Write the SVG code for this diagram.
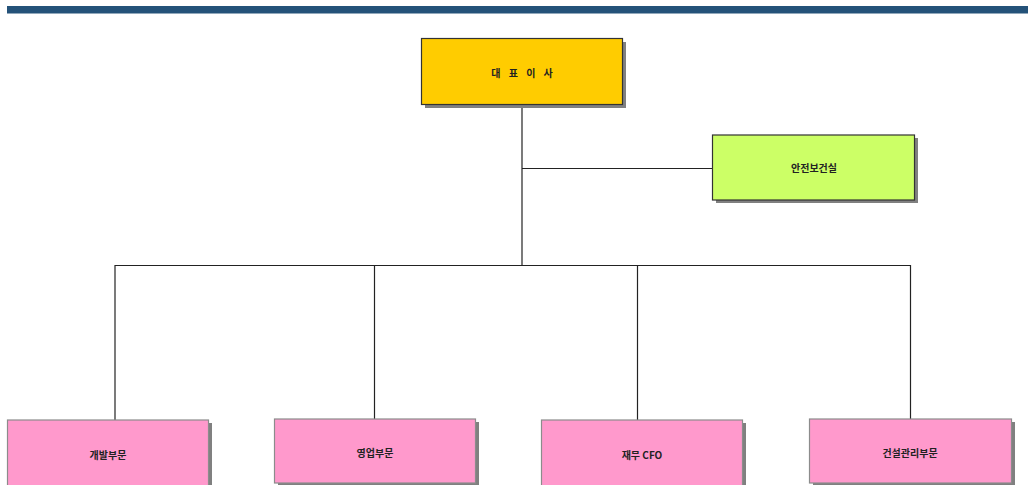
<svg xmlns="http://www.w3.org/2000/svg" width="1028" height="485" viewBox="0 0 1028 485">
<style>
.sh{fill:#808080}
.box{stroke:#333333;stroke-width:1.2}
.pk{fill:#FF99CC;stroke:#8c8c8c;stroke-width:1.2}
.t{font-family:"Noto Sans CJK KR","Liberation Sans",sans-serif;font-size:10px;font-weight:bold;fill:#222222;text-anchor:middle;dominant-baseline:central}
.ln{stroke:#222222;stroke-width:1.2;fill:none}
</style>
<rect x="7" y="6" width="1021" height="7.5" fill="#245279"/>
<g id="connectors">
<path class="ln" d="M522 105 V265"/>
<path class="ln" d="M522 168.5 H713"/>
<path class="ln" d="M115 265.5 H910.5"/>
<path class="ln" d="M115 265 V420"/>
<path class="ln" d="M374.5 265 V419"/>
<path class="ln" d="M637.5 265 V420"/>
<path class="ln" d="M910.5 265 V419"/>
</g>
<g id="ceo">
<rect class="sh" x="425" y="42" width="201" height="66"/>
<rect class="box" x="421.5" y="38.5" width="201" height="66" fill="#FFCC00"/>
<text class="t" x="523.5" y="72" font-size="11" letter-spacing="3">대 표 이 사</text>
</g>
<g id="safety">
<rect class="sh" x="716" y="138" width="202" height="65"/>
<rect class="box" x="712.5" y="135" width="202" height="65" fill="#CCFF66"/>
<text class="t" x="814" y="167">안전보건실</text>
</g>
<g id="dev">
<rect class="sh" x="11" y="423" width="201" height="70"/>
<rect class="pk" x="7.5" y="420" width="201" height="70"/>
<text class="t" x="108" y="454">개발부문</text>
</g>
<g id="sales">
<rect class="sh" x="278" y="422" width="201" height="64"/>
<rect class="pk" x="274.5" y="419" width="201" height="64"/>
<text class="t" x="375" y="452">영업부문</text>
</g>
<g id="finance">
<rect class="sh" x="545" y="423" width="201" height="70"/>
<rect class="pk" x="541.5" y="420" width="201" height="70"/>
<text class="t" x="642" y="454">재무 CFO</text>
</g>
<g id="construction">
<rect class="sh" x="813" y="422" width="202" height="64"/>
<rect class="pk" x="809.5" y="419" width="202" height="64"/>
<text class="t" x="910" y="452">건설관리부문</text>
</g>
</svg>
